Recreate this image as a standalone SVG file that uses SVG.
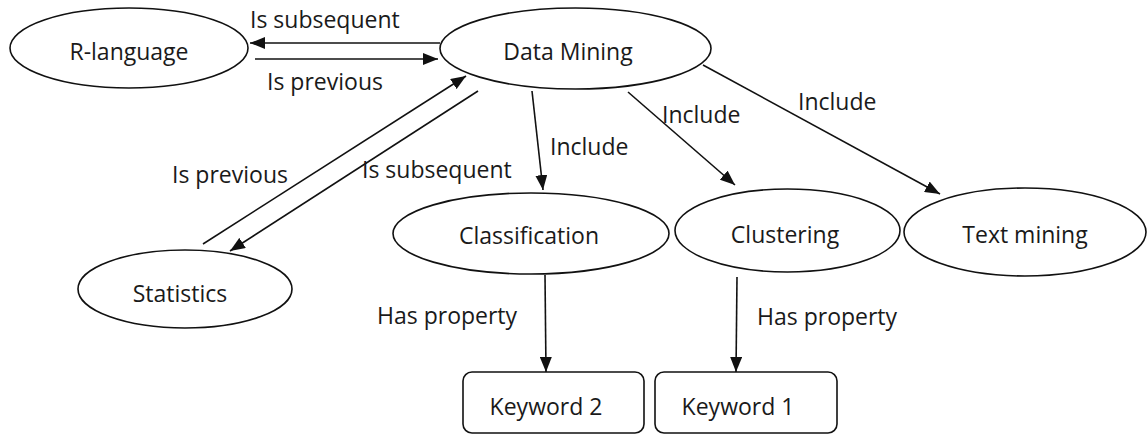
<svg xmlns="http://www.w3.org/2000/svg" width="1147" height="436" viewBox="0 0 1147 436">
<style>
  .node { fill: #ffffff; stroke: #111111; stroke-width: 1.6; }
  .lbl { font-family: "Open Sans", "Liberation Sans", sans-serif; font-size: 23px; fill: #1a1a1a; }
  .mid { text-anchor: middle; }
  .edge { stroke: #111111; stroke-width: 1.6; fill: none; marker-end: url(#arrow); }
  .plain { stroke: #111111; stroke-width: 1.6; fill: none; }
</style>
<defs>
  <marker id="arrow" markerUnits="userSpaceOnUse" markerWidth="16" markerHeight="12" refX="15" refY="6" orient="auto">
    <path d="M0,0 L15,6 L0,12 z" fill="#111111"/>
  </marker>
</defs>
<rect width="1147" height="436" fill="#ffffff"/>

<g id="connectors">
  <line class="edge" x1="440" y1="43" x2="250" y2="43"/>
  <line class="edge" x1="255" y1="59" x2="438" y2="59"/>
  <line class="edge" x1="203" y1="244" x2="466" y2="76"/>
  <line class="edge" x1="478" y1="91" x2="230" y2="251"/>
  <line class="edge" x1="532" y1="91" x2="543" y2="190"/>
  <line class="edge" x1="628" y1="92" x2="735" y2="185"/>
  <line class="edge" x1="703" y1="65" x2="940" y2="194"/>
  <line class="edge" x1="545" y1="275" x2="546" y2="372"/>
  <line class="edge" x1="737" y1="277" x2="736" y2="372"/>
  <text class="lbl" x="250" y="28">Is subsequent</text>
  <text class="lbl" x="267" y="90">Is previous</text>
  <text class="lbl" x="172" y="183">Is previous</text>
  <text class="lbl" x="362" y="178">Is subsequent</text>
  <text class="lbl" x="550" y="155">Include</text>
  <text class="lbl" x="662" y="123">Include</text>
  <text class="lbl" x="798" y="110">Include</text>
  <text class="lbl" x="377" y="324">Has property</text>
  <text class="lbl" x="757" y="325">Has property</text>
</g>

<g id="node-r-language">
  <ellipse class="node" cx="129" cy="48" rx="119" ry="40"/>
  <text class="lbl mid" x="129" y="60">R-language</text>
</g>
<g id="node-data-mining">
  <ellipse class="node" cx="575.5" cy="48.5" rx="135.5" ry="40.5"/>
  <text class="lbl mid" x="568" y="60">Data Mining</text>
</g>
<g id="node-statistics">
  <ellipse class="node" cx="185" cy="289" rx="107" ry="39"/>
  <text class="lbl mid" x="180" y="302">Statistics</text>
</g>
<g id="node-classification">
  <ellipse class="node" cx="531" cy="233.5" rx="138" ry="40.5"/>
  <text class="lbl mid" x="529" y="244">Classification</text>
</g>
<g id="node-clustering">
  <ellipse class="node" cx="787.5" cy="230.5" rx="112.5" ry="41.5"/>
  <text class="lbl mid" x="785" y="243">Clustering</text>
</g>
<g id="node-text-mining">
  <ellipse class="node" cx="1025" cy="232" rx="121" ry="44"/>
  <text class="lbl mid" x="1025" y="243">Text mining</text>
</g>
<g id="node-keyword-2">
  <rect class="node" x="463" y="372" width="181" height="61" rx="9" ry="9"/>
  <text class="lbl mid" x="546" y="415">Keyword 2</text>
</g>
<g id="node-keyword-1">
  <rect class="node" x="655" y="372" width="182" height="61" rx="9" ry="9"/>
  <text class="lbl mid" x="738" y="415">Keyword 1</text>
</g>
</svg>
